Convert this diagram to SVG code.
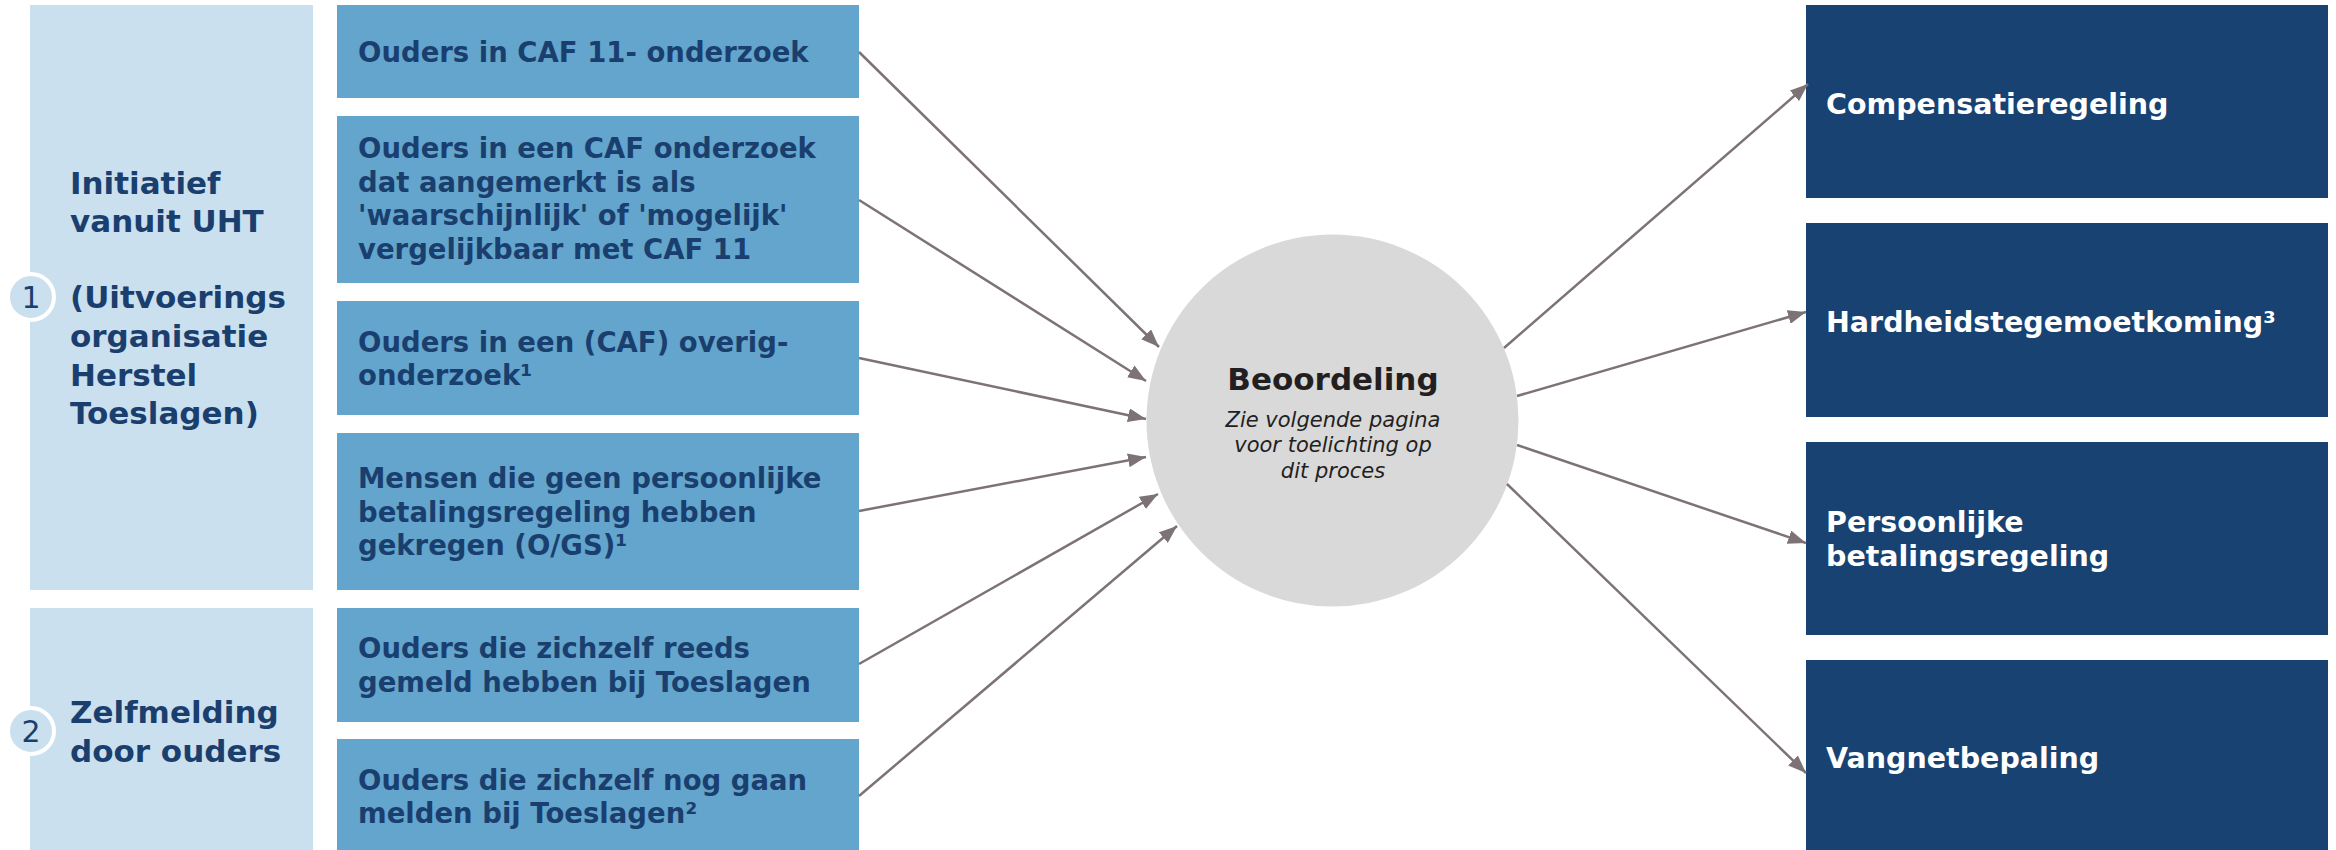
<svg xmlns="http://www.w3.org/2000/svg" width="2336" height="850" viewBox="0 0 2336 850">
<defs>
<style>
.grp{fill:#CBE0EE}
.src{fill:#63A5CC}
.dst{fill:#184272}
.lbl{font-family:"DejaVu Sans","Verdana",sans-serif;font-weight:bold;font-size:31px;fill:#1A3F6E}
.st{font-family:"DejaVu Sans","Verdana",sans-serif;font-weight:bold;font-size:27.5px;fill:#1A3F6E}
.dt{font-family:"DejaVu Sans","Verdana",sans-serif;font-weight:bold;font-size:28.5px;fill:#FFFFFF}
.num{fill:#CBE0EE;stroke:#FFFFFF;stroke-width:4}
.numt{font-family:"DejaVu Sans",sans-serif;font-size:30px;fill:#1A3F6E;text-anchor:middle}
.conn{stroke:#7D7276;stroke-width:2.5;fill:none;marker-end:url(#ah)}
</style>
<marker id="ah" markerUnits="userSpaceOnUse" markerWidth="18" markerHeight="14" refX="18" refY="7" orient="auto">
<path d="M0,0 L18,7 L0,14 z" fill="#7D7276"/>
</marker>
</defs>
<rect width="2336" height="850" fill="#FFFFFF"/>

<g id="group-uht">
<rect class="grp" x="30" y="5" width="283" height="585"/>
<text class="lbl" x="70" y="194">Initiatief</text>
<text class="lbl" x="70" y="232">vanuit UHT</text>
<text class="lbl" x="70" y="308">(Uitvoerings</text>
<text class="lbl" x="70" y="347">organisatie</text>
<text class="lbl" x="70" y="386">Herstel</text>
<text class="lbl" x="70" y="424">Toeslagen)</text>
<circle class="num" cx="31" cy="297" r="23"/>
<text class="numt" x="31" y="308">1</text>
</g>

<g id="group-zelfmelding">
<rect class="grp" x="30" y="608" width="283" height="250"/>
<text class="lbl" x="70" y="723">Zelfmelding</text>
<text class="lbl" x="70" y="762">door ouders</text>
<circle class="num" cx="31" cy="731" r="23"/>
<text class="numt" x="31" y="742">2</text>
</g>

<g id="src-caf11">
<rect class="src" x="337" y="5" width="522" height="93"/>
<text class="st" x="358" y="62">Ouders in CAF 11- onderzoek</text>
</g>
<g id="src-caf-vergelijkbaar">
<rect class="src" x="337" y="116" width="522" height="167"/>
<text class="st" x="358" y="158">Ouders in een CAF onderzoek</text>
<text class="st" x="358" y="192">dat aangemerkt is als</text>
<text class="st" x="358" y="225">'waarschijnlijk' of 'mogelijk'</text>
<text class="st" x="358" y="259">vergelijkbaar met CAF 11</text>
</g>
<g id="src-overig">
<rect class="src" x="337" y="301" width="522" height="114"/>
<text class="st" x="358" y="352">Ouders in een (CAF) overig-</text>
<text class="st" x="358" y="385">onderzoek¹</text>
</g>
<g id="src-ogs">
<rect class="src" x="337" y="433" width="522" height="157"/>
<text class="st" x="358" y="488">Mensen die geen persoonlijke</text>
<text class="st" x="358" y="522">betalingsregeling hebben</text>
<text class="st" x="358" y="555">gekregen (O/GS)¹</text>
</g>
<g id="src-reeds">
<rect class="src" x="337" y="608" width="522" height="114"/>
<text class="st" x="358" y="658">Ouders die zichzelf reeds</text>
<text class="st" x="358" y="692">gemeld hebben bij Toeslagen</text>
</g>
<g id="src-nog">
<rect class="src" x="337" y="739" width="522" height="120"/>
<text class="st" x="358" y="790">Ouders die zichzelf nog gaan</text>
<text class="st" x="358" y="823">melden bij Toeslagen²</text>
</g>

<g id="beoordeling">
<circle cx="1332.5" cy="420.5" r="186" fill="#D9D9D9"/>
<text x="1333" y="390" text-anchor="middle" font-family="DejaVu Sans, Verdana, sans-serif" font-weight="bold" font-size="31" fill="#231F20">Beoordeling</text>
<g font-family="DejaVu Sans, Verdana, sans-serif" font-style="italic" font-size="21" fill="#231F20" text-anchor="middle">
<text x="1333" y="427">Zie volgende pagina</text>
<text x="1333" y="452">voor toelichting op</text>
<text x="1333" y="478">dit proces</text>
</g>
</g>

<g id="dst-compensatie">
<rect class="dst" x="1806" y="5" width="522" height="193"/>
<text class="dt" x="1826" y="114">Compensatieregeling</text>
</g>
<g id="dst-hardheid">
<rect class="dst" x="1806" y="223" width="522" height="194"/>
<text class="dt" x="1826" y="332">Hardheidstegemoetkoming³</text>
</g>
<g id="dst-pbr">
<rect class="dst" x="1806" y="442" width="522" height="193"/>
<text class="dt" x="1826" y="532">Persoonlijke</text>
<text class="dt" x="1826" y="566">betalingsregeling</text>
</g>
<g id="dst-vangnet">
<rect class="dst" x="1806" y="660" width="522" height="200"/>
<text class="dt" x="1826" y="768">Vangnetbepaling</text>
</g>

<g id="connectors">
<line class="conn" x1="859" y1="52" x2="1159" y2="347"/>
<line class="conn" x1="859" y1="200" x2="1146" y2="381"/>
<line class="conn" x1="859" y1="358" x2="1146" y2="419"/>
<line class="conn" x1="859" y1="511" x2="1146" y2="457"/>
<line class="conn" x1="859" y1="664" x2="1158" y2="494"/>
<line class="conn" x1="859" y1="796" x2="1177" y2="526"/>
<line class="conn" x1="1504" y1="348" x2="1808" y2="84"/>
<line class="conn" x1="1517" y1="396" x2="1806" y2="312"/>
<line class="conn" x1="1517" y1="445" x2="1806" y2="543"/>
<line class="conn" x1="1507" y1="484" x2="1806" y2="773"/>
</g>
</svg>
